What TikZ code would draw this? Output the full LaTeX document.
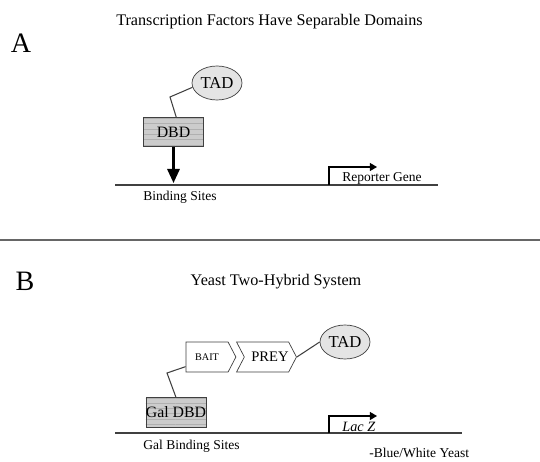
\documentclass[tikz,border=0pt]{standalone}
\usepackage{fontspec}
\setmainfont{Liberation Serif}
\usepackage{tikz}
\usetikzlibrary{arrows.meta, positioning, shapes.geometric, shapes.symbols, patterns}
\definecolor{TF-fill}{HTML}{E4E4E4}
\definecolor{TF-box}{HTML}{CCCCCC}
\definecolor{TF-stripe}{HTML}{B0B0B0}
\definecolor{TF-line}{HTML}{404040}
\tikzset{
  title/.style={anchor=base, font=\fontsize{9.2}{11}\selectfont},
  panel/.style={anchor=base, font=\fontsize{16}{18}\selectfont},
  label/.style={anchor=base west, inner sep=0pt, font=\fontsize{7.7}{9}\selectfont},
  tad/.style={ellipse, draw=TF-line, fill=TF-fill, inner sep=0pt, minimum width=1.0cm, minimum height=0.68cm, font=\fontsize{9.5}{11}\selectfont},
  dbdbox/.style={rectangle, draw=TF-line, preaction={fill=TF-box}, pattern=horizontal lines, pattern color=TF-stripe, inner sep=0pt, minimum width=1.2cm, minimum height=0.59cm, font=\fontsize{9}{11}\selectfont},
  hybrid/.style={signal, signal to=east, signal pointer angle=125, draw=TF-line, fill=white, inner sep=0pt, minimum height=0.6cm},
  tether/.style={draw=TF-line, line width=0.6pt},
  dna/.style={draw=TF-line, line width=0.7pt},
  bindarrow/.style={line width=1.3pt, -{Triangle[length=8pt, width=7pt]}},
  tss/.style={line width=0.6pt, -{Triangle[length=4pt, width=4.5pt]}}
}

\begin{document}
\begin{tikzpicture}[x=0.02cm, y=-0.02cm]
  \useasboundingbox (0,0) rectangle (540,462);
  % panel A
  \node[title] (titleA) at (269.5,26) {Transcription Factors Have Separable Domains};
  \node[panel] (labelA) at (21,53) {A};
  \node[tad] (tadA) at (217,83) {TAD};
  \node[dbdbox] (dbdA) at (173.5,132) {DBD};
  \coordinate (kinkA) at (170,97);
  \draw[tether] (dbdA.80) -- (kinkA) -- (tadA.190);
  \coordinate (siteA) at (173.5,183);
  \draw[bindarrow] (dbdA.south) -- (siteA);
  \coordinate (startA) at (115,185);
  \coordinate (endA) at (438,185);
  \draw[dna] (startA) -- (endA);
  \node[label] (sitesA) at (143,201) {Binding Sites};
  \coordinate (promA) at (329,185);
  \coordinate (tssA) at (377,167);
  \draw[tss] (promA) |- (tssA);
  \node[label] (reporter) at (342,182) {Reporter Gene};

  \coordinate (sepL) at (0,240);
  \coordinate (sepR) at (540,240);
  \draw[line width=1.2pt, TF-line!80] (sepL) -- (sepR);

  % panel B
  \node[panel] (labelB) at (25,290) {B};
  \node[title] (titleB) at (276,285) {Yeast Two-Hybrid System};
  \node[hybrid, minimum width=1.0cm, font=\fontsize{5.8}{7}\selectfont] (bait) at (207,357) {BAIT};
  \node[hybrid, signal from=west, minimum width=1.14cm, font=\fontsize{8.3}{10}\selectfont] (prey) at (266.5,357) {\hspace{4pt}PREY};
  \node[tad] (tadB) at (345,342) {TAD};
  \draw[tether] (prey.east) -- (tadB.west);
  \node[dbdbox] (galdbd) at (176,412.5) {Gal DBD};
  \coordinate (kinkB) at (167,373);
  \draw[tether] (galdbd.north) -- (kinkB) -- ([yshift=-5.5pt]bait.west);
  \coordinate (startB) at (115,433);
  \coordinate (endB) at (462,433);
  \draw[dna] (startB) -- (endB);
  \node[label] (sitesB) at (143,449) {Gal Binding Sites};
  \coordinate (promB) at (329,433);
  \coordinate (tssB) at (377,416);
  \draw[tss] (promB) |- (tssB);
  \node[label, font=\fontsize{8.1}{10}\selectfont\itshape] (lacz) at (342,431) {Lac Z};
  \node[label] (readout) at (369,457) {-Blue/White Yeast};
\end{tikzpicture}
\end{document}
